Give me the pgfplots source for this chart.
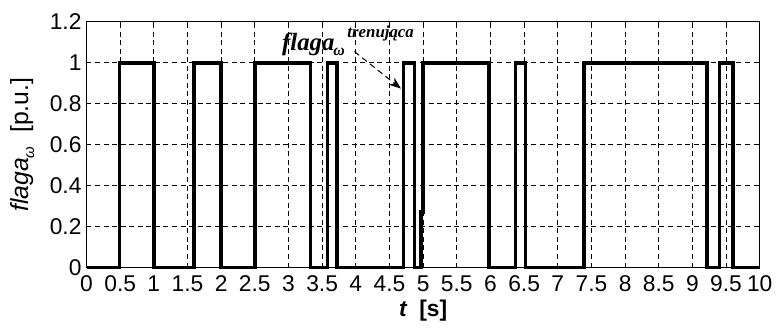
\documentclass[border=0pt]{standalone}
\usepackage{fontspec}
\setmainfont{Liberation Sans}
\newfontfamily\annfont{Liberation Serif}
\usepackage{pgfplots}
\pgfplotsset{compat=1.18}
\usetikzlibrary{arrows.meta}
\begin{document}
\begin{tikzpicture}
\begin{axis}[
  scale only axis,
  width=338.5bp, height=123.5bp,
  xmin=0, xmax=10, ymin=0, ymax=1.2,
  xtick={0,0.5,...,10},
  xticklabels={0,0.5,1,1.5,2,2.5,3,3.5,4,4.5,5,5.5,6,6.5,7,7.5,8,8.5,9,9.5,10},
  ytick={0,0.2,0.4,0.6,0.8,1,1.2},
  yticklabels={0,0.2,0.4,0.6,0.8,1,1.2},
  tick align=inside,
  major tick length=2bp,
  tick style={black, line width=0.4pt},
  axis line style={line width=0.5pt},
  grid=major,
  major grid style={black, line width=0.45pt, dash pattern=on 2.5bp off 1.8bp},
  ticklabel style={font=\fontsize{11.5}{13}\selectfont},
  /pgf/number format/assume math mode=true,
  xticklabel style={yshift=-0.5bp},
  yticklabel style={xshift=1bp},
  xlabel={\fontsize{11.5}{13}\selectfont\bfseries\itshape t\upshape\ \ [s]},
  xlabel style={yshift=2.5bp},
  ylabel={\fontsize{12.5}{14}\selectfont\itshape flaga\raisebox{-0.45ex}{\fontsize{7.5}{8}\selectfont ω}\upshape\ \ [p.u.]},
  ylabel style={yshift=1bp},
  clip=false,
]
\addplot[black, line width=1.8bp, line join=miter] coordinates {
(0,0)(0.49,0)(0.49,1)(1.0,1)(1.0,0)(1.6,0)(1.6,1)(2.0,1)(2.0,0)
(2.5,0)(2.5,1)(3.33,1)(3.33,0)(3.58,0)(3.58,1)(3.72,1)(3.72,0)
(4.71,0)(4.71,1)(4.87,1)(4.87,0)(4.97,0)(4.97,0.27)(5.0,0.27)(5.0,1)
(5.98,1)(5.98,0)(6.37,0)(6.37,1)(6.52,1)(6.52,0)(7.39,0)(7.39,1)
(9.22,1)(9.22,0)(9.40,0)(9.40,1)(9.6,1)(9.6,0)(10,0)
};
\node[anchor=base west, inner sep=0] at (axis cs:2.9,1.06)
  {\annfont\fontsize{12.5}{14}\selectfont\bfseries\itshape flaga};
\node[anchor=base west, inner sep=0] at (axis cs:3.66,1.035)
  {\annfont\fontsize{8}{9}\selectfont\bfseries\itshape ω};
\node[anchor=base west, inner sep=0] at (axis cs:3.87,1.126)
  {\annfont\fontsize{8.5}{9}\selectfont\bfseries\itshape trenująca};
\draw[black, line width=0.5pt, densely dashed, -{Stealth[length=6bp,width=4.5bp]}]
  (axis cs:3.98,1.055) -- (axis cs:4.67,0.874);
\end{axis}
\useasboundingbox ([shift={(-43.5bp,-26.5bp)}]current axis.south west)
  rectangle ([shift={(7.5bp,11bp)}]current axis.north east);
\end{tikzpicture}
\end{document}
